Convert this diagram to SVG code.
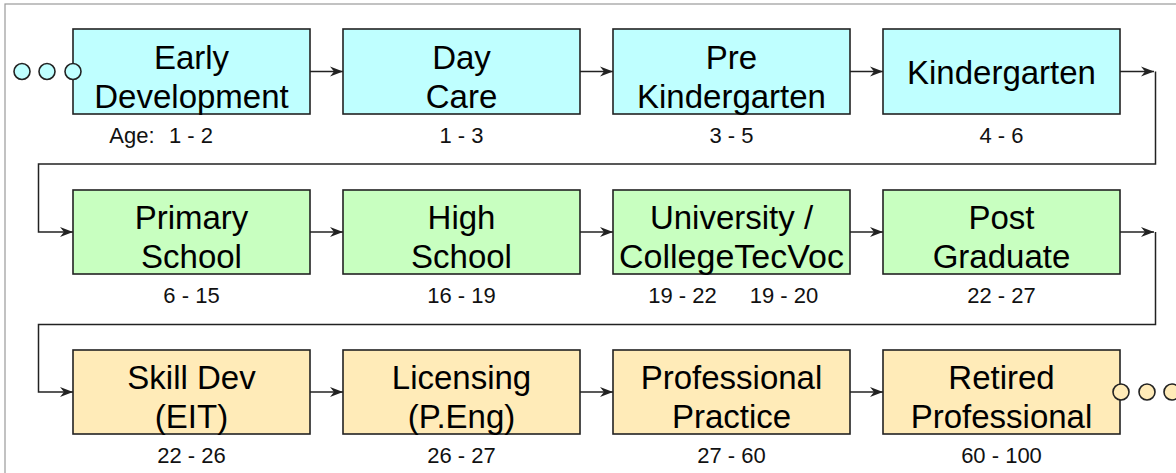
<svg xmlns="http://www.w3.org/2000/svg" width="1176" height="473" viewBox="0 0 1176 473">
<style>
.box{stroke:#222;stroke-width:1.6}
.c{fill:#BFFFFF}
.g{fill:#C8FFC0}
.o{fill:#FFEBB8}
.t{font-family:"Liberation Sans",Arial,sans-serif;font-size:33px;fill:#000;text-anchor:middle}
.a{font-family:"Liberation Sans",Arial,sans-serif;font-size:22px;fill:#111;text-anchor:middle}
.ln{fill:none;stroke:#222;stroke-width:1.5}
.dot{stroke:#222;stroke-width:1.6}
</style>
<defs>
<marker id="arr" markerUnits="userSpaceOnUse" markerWidth="14" markerHeight="12" refX="13" refY="6" orient="auto">
<path d="M0,1 L13,6 L0,11 L4,6 z" fill="#222"/>
</marker>
</defs>
<rect x="5" y="4" width="1300" height="600" fill="#fff" stroke="#9a9a9a" stroke-width="1.2"/>

<g id="connectors">
<line class="ln" x1="310" y1="71.5" x2="343" y2="71.5" marker-end="url(#arr)"/>
<line class="ln" x1="580" y1="71.5" x2="613" y2="71.5" marker-end="url(#arr)"/>
<line class="ln" x1="850" y1="71.5" x2="883" y2="71.5" marker-end="url(#arr)"/>
<line class="ln" x1="1120" y1="71.5" x2="1154" y2="71.5" marker-end="url(#arr)"/>
<polyline class="ln" points="1155.5,71.5 1155.5,164 38.5,164 38.5,232 73,232" marker-end="url(#arr)"/>
<line class="ln" x1="310" y1="232" x2="343" y2="232" marker-end="url(#arr)"/>
<line class="ln" x1="580" y1="232" x2="613" y2="232" marker-end="url(#arr)"/>
<line class="ln" x1="850" y1="232" x2="883" y2="232" marker-end="url(#arr)"/>
<line class="ln" x1="1120" y1="232" x2="1154" y2="232" marker-end="url(#arr)"/>
<polyline class="ln" points="1155.5,232 1155.5,324.5 38.5,324.5 38.5,392 73,392" marker-end="url(#arr)"/>
<line class="ln" x1="310" y1="392" x2="343" y2="392" marker-end="url(#arr)"/>
<line class="ln" x1="580" y1="392" x2="613" y2="392" marker-end="url(#arr)"/>
<line class="ln" x1="850" y1="392" x2="883" y2="392" marker-end="url(#arr)"/>
</g>

<g id="start-dots">
<circle class="dot c" cx="22" cy="71.5" r="8"/>
<circle class="dot c" cx="47" cy="71.5" r="8"/>
</g>

<g id="early-development">
<rect class="box c" x="73" y="29" width="237" height="85"/>
<circle class="dot c" cx="73" cy="71.5" r="8"/>
<text class="t" x="191.5" y="69">Early</text>
<text class="t" x="191.5" y="107.5">Development</text>
<text class="a" x="132" y="143">Age:</text>
<text class="a" x="191" y="143">1 - 2</text>
</g>
<g id="day-care">
<rect class="box c" x="343" y="29" width="237" height="85"/>
<text class="t" x="461.5" y="69">Day</text>
<text class="t" x="461.5" y="107.5">Care</text>
<text class="a" x="461.5" y="143">1 - 3</text>
</g>
<g id="pre-kindergarten">
<rect class="box c" x="613" y="29" width="237" height="85"/>
<text class="t" x="731.5" y="69">Pre</text>
<text class="t" x="731.5" y="107.5">Kindergarten</text>
<text class="a" x="731.5" y="143">3 - 5</text>
</g>
<g id="kindergarten">
<rect class="box c" x="883" y="29" width="237" height="85"/>
<text class="t" x="1001.5" y="84">Kindergarten</text>
<text class="a" x="1001.5" y="143">4 - 6</text>
</g>

<g id="primary-school">
<rect class="box g" x="73" y="190" width="237" height="84"/>
<text class="t" x="191.5" y="229">Primary</text>
<text class="t" x="191.5" y="267.5">School</text>
<text class="a" x="191.5" y="303">6 - 15</text>
</g>
<g id="high-school">
<rect class="box g" x="343" y="190" width="237" height="84"/>
<text class="t" x="461.5" y="229">High</text>
<text class="t" x="461.5" y="267.5">School</text>
<text class="a" x="461.5" y="303">16 - 19</text>
</g>
<g id="university">
<rect class="box g" x="613" y="190" width="237" height="84"/>
<text class="t" x="731.5" y="229">University /</text>
<text class="t" x="731.5" y="267.5" textLength="225" lengthAdjust="spacingAndGlyphs">CollegeTecVoc</text>
<text class="a" x="682.5" y="303">19 - 22</text>
<text class="a" x="784" y="303">19 - 20</text>
</g>
<g id="post-graduate">
<rect class="box g" x="883" y="190" width="237" height="84"/>
<text class="t" x="1001.5" y="229">Post</text>
<text class="t" x="1001.5" y="267.5">Graduate</text>
<text class="a" x="1001.5" y="303">22 - 27</text>
</g>

<g id="skill-dev">
<rect class="box o" x="73" y="350" width="237" height="84"/>
<text class="t" x="191.5" y="389">Skill Dev</text>
<text class="t" x="191.5" y="427.5">(EIT)</text>
<text class="a" x="191.5" y="463">22 - 26</text>
</g>
<g id="licensing">
<rect class="box o" x="343" y="350" width="237" height="84"/>
<text class="t" x="461.5" y="389">Licensing</text>
<text class="t" x="461.5" y="427.5">(P.Eng)</text>
<text class="a" x="461.5" y="463">26 - 27</text>
</g>
<g id="professional-practice">
<rect class="box o" x="613" y="350" width="237" height="84"/>
<text class="t" x="731.5" y="389">Professional</text>
<text class="t" x="731.5" y="427.5">Practice</text>
<text class="a" x="731.5" y="463">27 - 60</text>
</g>
<g id="retired-professional">
<rect class="box o" x="883" y="350" width="237" height="84"/>
<circle class="dot o" cx="1121" cy="392" r="8"/>
<text class="t" x="1001.5" y="389">Retired</text>
<text class="t" x="1001.5" y="427.5">Professional</text>
<text class="a" x="1001.5" y="463">60 - 100</text>
</g>

<g id="end-dots">
<circle class="dot o" cx="1147" cy="392" r="8"/>
<circle class="dot o" cx="1172" cy="392" r="8"/>
</g>
</svg>
